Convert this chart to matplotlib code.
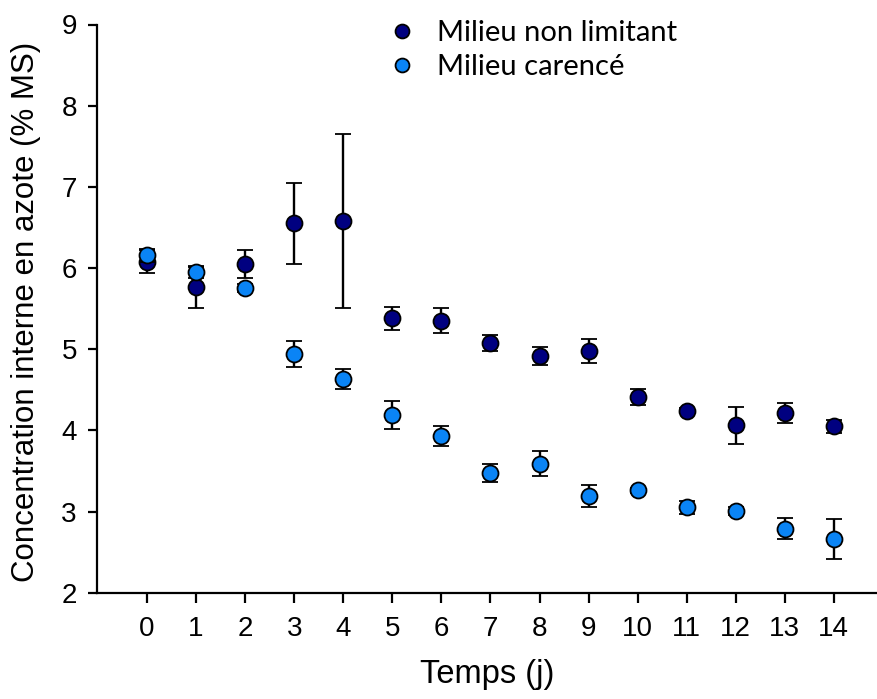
import matplotlib
matplotlib.use("Agg")
import matplotlib.pyplot as plt
from matplotlib.lines import Line2D

# jours
days = list(range(15))

# Milieu non limitant
nonlim_mean = [6.08, 5.76, 6.05, 6.55, 6.58, 5.38, 5.35, 5.08, 4.92, 4.98, 4.41, 4.24, 4.06, 4.21, 4.05]
nonlim_err = [0.14, 0.25, 0.17, 0.50, 1.07, 0.14, 0.155, 0.10, 0.11, 0.15, 0.10, 0.03, 0.23, 0.125, 0.08]

# Milieu carencé
car_mean = [6.16, 5.95, 5.75, 4.94, 4.63, 4.19, 3.93, 3.47, 3.59, 3.19, 3.26, 3.05, 3.01, 2.79, 2.66]
car_err = [0.08, 0.07, 0.05, 0.155, 0.125, 0.17, 0.12, 0.11, 0.155, 0.14, 0.03, 0.085, 0.05, 0.125, 0.245]

dark = "#000080"
light = "#0a84f5"

plt.rcParams['font.family'] = ['Liberation Sans', 'DejaVu Sans']

fig = plt.figure(figsize=(8.78, 6.99), dpi=100)
ax = fig.add_axes([97 / 878, 1 - 592.7 / 699, 1 - 97 / 878, (592.7 - 24.5) / 699])

common = dict(fmt='o', markersize=11.5, markeredgecolor='black', markeredgewidth=1.3,
              ecolor='black', elinewidth=1.7, capsize=6, capthick=1.7, linestyle='none')
ax.errorbar(days, nonlim_mean, yerr=nonlim_err, color=dark, zorder=3, **common)
ax.errorbar(days, car_mean, yerr=car_err, color=light, zorder=4, **common)

ax.set_xlim(-1.02, 14.9)
ax.set_ylim(2, 9)
ax.set_xticks(days)
ax.set_yticks(range(2, 10))

for s in ['top', 'right']:
    ax.spines[s].set_visible(False)
for s in ['left', 'bottom']:
    ax.spines[s].set_linewidth(1.6)

ax.tick_params(axis='y', length=6.5, width=1.6, labelsize=20, pad=8)
ax.tick_params(axis='x', length=7, width=1.6, labelsize=20, pad=10)

ax.set_xlabel('Temps (j)', fontsize=23.5, labelpad=12)
ax.set_ylabel('Concentration interne en azote (% MS)', fontsize=22.5)
ax.yaxis.set_label_coords(-0.072, 0.495)

# legend: markers only
handles = [Line2D([], [], marker='o', linestyle='none', markersize=10, color=c,
                  markeredgecolor='black', markeredgewidth=1.3) for c in (dark, light)]
ax.legend(handles, ['Milieu non limitant', 'Milieu carencé'], loc='upper left',
          bbox_to_anchor=(0.372, 1.008), frameon=False, handlelength=1.0,
          handletextpad=0.69, labelspacing=0.27, borderaxespad=0, borderpad=0,
          prop={'family': ['Lato', 'DejaVu Sans'], 'size': 21})

fig.savefig('out.png', dpi=100)
